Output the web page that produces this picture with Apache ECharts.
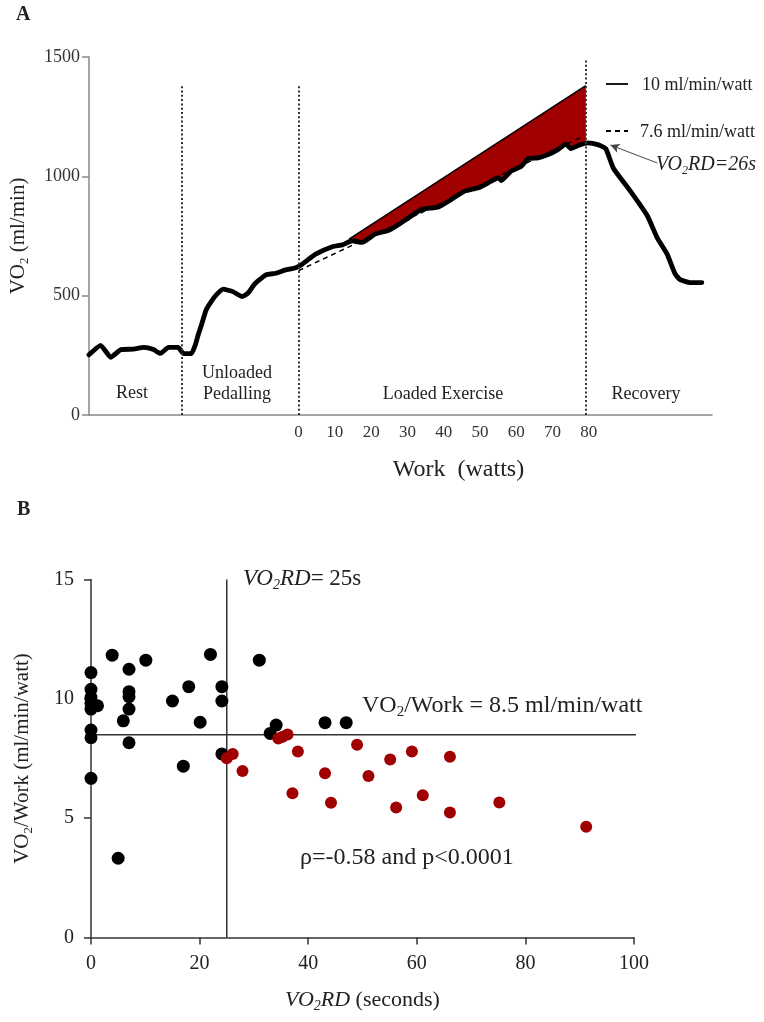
<!DOCTYPE html>
<html><head><meta charset="utf-8">
<script src="https://cdn.jsdelivr.net/npm/echarts@6/dist/echarts.min.js"></script>
<style>html,body{margin:0;padding:0;background:#fff}#c{width:764px;height:1022px}</style>
</head><body><div id="c"></div>
<script>
// ---------- Panel A data (x = work-equivalent units, 0–80 W = loaded phase) ----------
const vo2Trace = [[-57.8,252],[-54.6,292],[-51.8,242],[-49.0,274],[-45.5,276],[-42.7,283],[-40.0,274],[-38.1,258],[-35.9,283],[-33.2,283],[-31.8,258],[-29.6,257],[-28.5,293],[-27.7,335],[-26.8,377],[-25.5,440],[-24.1,475],[-22.7,503],[-20.8,527],[-18.1,517],[-15.6,496],[-14.0,510],[-12.1,549],[-9.0,587],[-6.3,594],[-3.6,608],[-0.8,617],[1.1,633],[4.7,674],[9.3,705],[12.1,713],[14.8,730],[17.5,723],[21.1,758],[24.9,774],[27.7,799],[30.4,827],[34.0,862],[38.6,872],[42.2,904],[45.8,938],[49.6,952],[52.3,973],[55.1,994],[55.9,982],[58.6,1022],[61.4,1042],[63.3,1074],[66.0,1077],[68.8,1091],[71.5,1112],[73.7,1135],[75.1,1116],[77.3,1130],[79.7,1140],[82.5,1133],[84.7,1116],[86.8,1034],[91.5,938],[96.2,834],[98.9,742],[101.6,675],[103.8,592],[105.2,567],[107.9,555],[111.2,555]];
const phaseBoundX = [-32.3, 0, 79.2];
const phaseBoundTop = [1383, 1383, 1490];
const line10X = [13.9, 79.2];
const line10Y = [737, 1380];
const line76X = [0, 78.5];
const line76Y = [605, 1168];
const workTicks = [0, 10, 20, 30, 40, 50, 60, 70, 80];
const phaseNames = ['Rest', 'Unloaded', 'Pedalling', 'Loaded Exercise', 'Recovery'];
const arrowFrom = [98.9, 1056];
const arrowTo = [86.0, 1131];

// ---------- Panel B data ----------
const belowThresholdPts = [[0,11.1],[0,10.4],[0,10.06],[0,9.81],[1.2,9.71],[0,9.57],[0,8.69],[0,8.37],[0,6.67],[3.9,11.83],[7.0,11.24],[7.0,10.3],[7.0,10.09],[7.0,9.57],[7.0,8.16],[5.95,9.08],[10.1,11.62],[5.0,3.32],[15.0,9.91],[18.0,10.51],[17.0,7.18],[20.1,9.02],[22.0,11.86],[24.1,10.51],[24.1,9.91],[24.1,7.69],[31.0,11.62],[33.0,8.55],[34.1,8.9],[43.1,9.0],[47.0,9.0]];
const aboveThresholdPts = [[25.0,7.51],[26.1,7.69],[27.9,6.98],[34.5,8.34],[35.3,8.41],[36.2,8.51],[38.1,7.79],[37.1,6.04],[43.1,6.88],[44.2,5.65],[49.0,8.08],[55.1,7.46],[59.1,7.79],[66.1,7.57],[51.1,6.77],[61.1,5.96],[56.2,5.45],[66.1,5.24],[75.2,5.66],[91.2,4.64]];
const rdThreshold = 25;
const ratioThreshold = 8.5;
const ratioLineEnd = 101;

const SERIF = '"Liberation Serif","Times New Roman",serif';
const RED = '#a00000';

function interpCurve(x) {
  for (let i = 0; i < vo2Trace.length - 1; i++) {
    const a = vo2Trace[i], b = vo2Trace[i + 1];
    if (x >= a[0] && x <= b[0]) return a[1] + (b[1] - a[1]) * (x - a[0]) / (b[0] - a[0]);
  }
  return vo2Trace[vo2Trace.length - 1][1];
}

const chart = echarts.init(document.getElementById('c'), null, {renderer: 'canvas'});

const txt = (x, y, text, size, extra) => Object.assign({
  type: 'text', x: x, y: y, silent: true,
  style: Object.assign({text: text, fill: '#222', font: size + 'px ' + SERIF,
    fontSize: size, fontFamily: SERIF,
    textAlign: 'center', textVerticalAlign: 'middle', align: 'center', verticalAlign: 'middle'}, extra || {})
});

const subRich = (size, italic) => ({
  m: {fontSize: size, fontFamily: SERIF, fontStyle: italic ? 'italic' : 'normal', color: '#222', fill: '#222', lineHeight: size + 4, verticalAlign: 'middle'},
  s: {fontSize: Math.round(size * 0.62), fontFamily: SERIF, fontStyle: italic ? 'italic' : 'normal', color: '#222', fill: '#222', lineHeight: Math.round(size * 0.62), verticalAlign: 'bottom'},
  r: {fontSize: size, fontFamily: SERIF, color: '#222', fill: '#222', lineHeight: size + 4, verticalAlign: 'middle'}
});

const option = {
  backgroundColor: '#fff',
  animation: false,
  textStyle: {fontFamily: SERIF},
  grid: [
    {left: 85, top: 57, width: 627, height: 358},
    {left: 91, top: 579.5, width: 543, height: 358}
  ],
  xAxis: [
    {gridIndex: 0, type: 'value', min: -57.8, max: 114,
     axisLine: {onZero: false, lineStyle: {color: '#888', width: 1.5}},
     axisTick: {show: false}, splitLine: {show: false},
     axisLabel: {customValues: workTicks, fontSize: 17, color: '#333', margin: 9, fontFamily: SERIF},
     name: 'Work  (watts)', nameLocation: 'middle', nameGap: 43,
     nameTextStyle: {fontSize: 24, color: '#222', fontFamily: SERIF, padding: [0, 0, 0, 116]}},
    {gridIndex: 1, type: 'value', min: 0, max: 100, interval: 20,
     axisLine: {onZero: false, lineStyle: {color: '#333', width: 1.5}},
     axisTick: {show: true, inside: false, length: 7, lineStyle: {color: '#333', width: 1.5}},
     splitLine: {show: false},
     axisLabel: {fontSize: 20, color: '#222', margin: 16, fontFamily: SERIF},
     name: '{m|VO}{s|2}{m|RD}{r| (seconds)}', nameLocation: 'middle', nameGap: 50,
     nameTextStyle: {rich: subRich(22, true)}}
  ],
  yAxis: [
    {gridIndex: 0, type: 'value', min: 0, max: 1500, interval: 500,
     axisLine: {show: true, onZero: false, lineStyle: {color: '#888', width: 1.5}},
     axisTick: {show: true, length: 7, lineStyle: {color: '#888', width: 1.5}},
     splitLine: {show: false},
     axisLabel: {fontSize: 18, color: '#333', margin: 9, fontFamily: SERIF, formatter: v => String(v)},
     name: '{m|VO}{s|2}{r| (ml/min)}', nameLocation: 'middle', nameGap: 58, nameRotate: 90,
     nameTextStyle: {rich: subRich(21, false)}},
    {gridIndex: 1, type: 'value', min: 0, max: 15, interval: 5,
     axisLine: {show: true, onZero: false, lineStyle: {color: '#333', width: 1.5}},
     axisTick: {show: true, length: 7, lineStyle: {color: '#333', width: 1.5}},
     splitLine: {show: false},
     axisLabel: {fontSize: 20, color: '#222', margin: 17, fontFamily: SERIF},
     name: '{m|VO}{s|2}{r|/Work (ml/min/watt)}', nameLocation: 'middle', nameGap: 56, nameRotate: 90,
     nameTextStyle: {rich: subRich(21, false)}}
  ],
  series: [
    // red area between the 10 ml/min/watt line and the measured VO2
    {type: 'custom', xAxisIndex: 0, yAxisIndex: 0, data: [0], z: 1, silent: true,
     renderItem: function (params, api) {
       const pts = [];
       pts.push(api.coord([line10X[0], line10Y[0]]));
       pts.push(api.coord([line10X[1], line10Y[1]]));
       pts.push(api.coord([line10X[1], interpCurve(line10X[1])]));
       for (let i = vo2Trace.length - 1; i >= 0; i--) {
         const p = vo2Trace[i];
         if (p[0] > line10X[0] && p[0] < line10X[1]) pts.push(api.coord(p));
       }
       return {type: 'polygon', shape: {points: pts}, style: {fill: RED, stroke: null}};
     }},
    // 7.6 ml/min/watt dashed line
    {type: 'line', xAxisIndex: 0, yAxisIndex: 0, z: 2, symbol: 'none', silent: true,
     data: line76X.map((x, i) => [x, line76Y[i]]),
     lineStyle: {color: '#000', width: 1.5, type: [5, 4]}},
    // measured VO2 trace + phase dividers
    {type: 'line', xAxisIndex: 0, yAxisIndex: 0, z: 3, symbol: 'none', silent: true,
     data: vo2Trace, smooth: 0.15,
     lineStyle: {color: '#000', width: 4.8, join: 'round', cap: 'round'},
     markLine: {silent: true, symbol: 'none', label: {show: false},
       lineStyle: {color: '#333', width: 2, type: [2, 2.3]},
       data: phaseBoundX.map((x, i) => [{coord: [x, 0]}, {coord: [x, phaseBoundTop[i]]}])}},
    // 10 ml/min/watt solid line
    {type: 'line', xAxisIndex: 0, yAxisIndex: 0, z: 4, symbol: 'none', silent: true,
     data: line10X.map((x, i) => [x, line10Y[i]]),
     lineStyle: {color: '#000', width: 1.5},
     markLine: {silent: true, symbol: ['none', 'arrow'], symbolSize: [7, 9], label: {show: false},
       lineStyle: {color: '#444', width: 1, type: 'solid'},
       data: [[{coord: arrowFrom}, {coord: arrowTo}]]}},
    // Panel B reference lines
    {type: 'line', xAxisIndex: 1, yAxisIndex: 1, symbol: 'none', silent: true, clip: false,
     data: [[rdThreshold, 0], [rdThreshold, 15]], lineStyle: {color: '#333', width: 1.5}},
    {type: 'line', xAxisIndex: 1, yAxisIndex: 1, symbol: 'none', silent: true, clip: false,
     data: [[0, ratioThreshold], [ratioLineEnd, ratioThreshold]], lineStyle: {color: '#333', width: 1.5}},
    // Panel B scatter
    {type: 'scatter', xAxisIndex: 1, yAxisIndex: 1, symbolSize: 13, z: 5,
     itemStyle: {color: '#000', opacity: 1}, data: belowThresholdPts},
    {type: 'scatter', xAxisIndex: 1, yAxisIndex: 1, symbolSize: 12, z: 6,
     itemStyle: {color: RED, opacity: 1}, data: aboveThresholdPts}
  ],
  graphic: [
    txt(16, 15, 'A', 20, {fontWeight: 'bold', font: 'bold 20px ' + SERIF, textAlign: 'left', align: 'left'}),
    txt(17, 510, 'B', 20, {fontWeight: 'bold', font: 'bold 20px ' + SERIF, textAlign: 'left', align: 'left'}),
    // phase labels
    txt(132, 393, phaseNames[0], 18),
    txt(237, 373, phaseNames[1], 18),
    txt(237, 394, phaseNames[2], 18),
    txt(443, 394, phaseNames[3], 18),
    txt(646, 394, phaseNames[4], 18),
    // legend
    {type: 'line', silent: true, shape: {x1: 606, y1: 84, x2: 628, y2: 84}, style: {stroke: '#000', lineWidth: 1.8}},
    {type: 'line', silent: true, shape: {x1: 606, y1: 131, x2: 628, y2: 131}, style: {stroke: '#000', lineWidth: 1.8, lineDash: [5, 4]}},
    txt(642, 85, '10 ml/min/watt', 18, {textAlign: 'left', align: 'left'}),
    txt(640, 132, '7.6 ml/min/watt', 18, {textAlign: 'left', align: 'left'}),
    txt(656, 165, '{m|VO}{s|2}{m|RD=26s}', 20, {textAlign: 'left', align: 'left', rich: subRich(20, true)}),
    // panel B annotations
    txt(243, 579, '{m|VO}{s|2}{m|RD}{r|= 25s}', 23, {textAlign: 'left', align: 'left', rich: subRich(23, true)}),
    txt(362, 706, '{r|VO}{s|2}{r|/Work = 8.5 ml/min/watt}', 24, {textAlign: 'left', align: 'left', rich: subRich(24, false)}),
    txt(300, 858, 'ρ=-0.58 and p<0.0001', 24, {textAlign: 'left', align: 'left'})
  ]
};
chart.setOption(option);
</script>
</body></html>
